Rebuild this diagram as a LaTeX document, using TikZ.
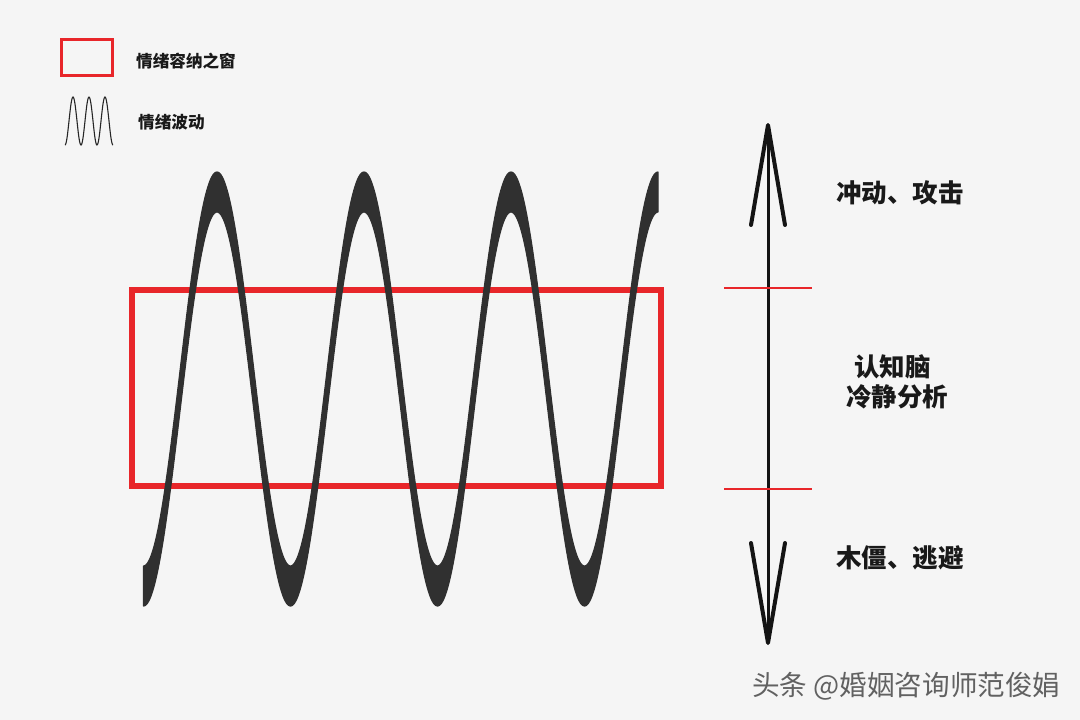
\documentclass[tikz,border=0pt]{standalone}
\usepackage{fontspec}
\newfontfamily\cjk{Noto Sans CJK SC}
\usetikzlibrary{arrows.meta}
\definecolor{bgc}{HTML}{F5F5F5}
\definecolor{wavec}{HTML}{303030}
\definecolor{redc}{HTML}{E8262A}
\tikzset{
  bigtxt/.style={anchor=west, inner sep=0pt, font=\cjk\bfseries\fontsize{25.5}{30}\selectfont, text=black!90},
  legtxt/.style={anchor=west, inner sep=0pt, font=\cjk\bfseries\fontsize{16.6}{20}\selectfont, text=black!90},
  redbox/.style={draw=redc},
  tick/.style={draw=redc, line width=2pt},
}
\begin{document}
\begin{tikzpicture}[x=1pt,y=-1pt]
\fill[bgc] (0,0) rectangle (1080,720);
\useasboundingbox (0,0) rectangle (1080,720);

% legend
\draw[redbox, line width=3pt] (61,39) rectangle (112,75);
\draw[black!85, line width=1.1pt] plot[domain=65:113, samples=120] (\x, {121-24*cos((\x-73)*22.5)});
\node[legtxt] (leg1) at (136,61) {情绪容纳之窗};
\node[legtxt] (leg2) at (138,122) {情绪波动};

% window of tolerance
\draw[redbox, line width=6pt] (132,290) rectangle (661,486);

% wave band
\filldraw[wavec, line width=1.2pt, line join=round]
  plot[domain=143.5:658, samples=400] (\x, {369-197*cos((\x-217)*2.44898)})
  -- plot[domain=658:143.5, samples=400] (\x, {409-197*cos((\x-217)*2.44898)})
  -- cycle;

% vertical arrow
\coordinate (top) at (768,123);
\coordinate (bot) at (768,645);
\draw[black!92, line width=3pt,
  {Straight Barb[length=100pt, width=34pt, line width=4pt, round]}-{Straight Barb[length=100pt, width=34pt, line width=4pt, round]}]
  (bot) -- (top);

% ticks
\draw[tick] (724,288) -- (812,288);
\draw[tick] (724,489) -- (812,489);

% labels
\node[bigtxt] (up) at (836,193) {冲动、攻击};
\node[bigtxt] (mid1) at (854,367) {认知脑};
\node[bigtxt] (mid2) at (846,397) {冷静分析};
\node[bigtxt] (down) at (836,558) {木僵、逃避};

% watermark
\node[anchor=west, inner sep=0pt, font=\cjk\fontsize{27.6}{32}\selectfont, text=black!62] (wm) at (752,686) {头条 @婚姻咨询师范俊娟};
\end{tikzpicture}
\end{document}
